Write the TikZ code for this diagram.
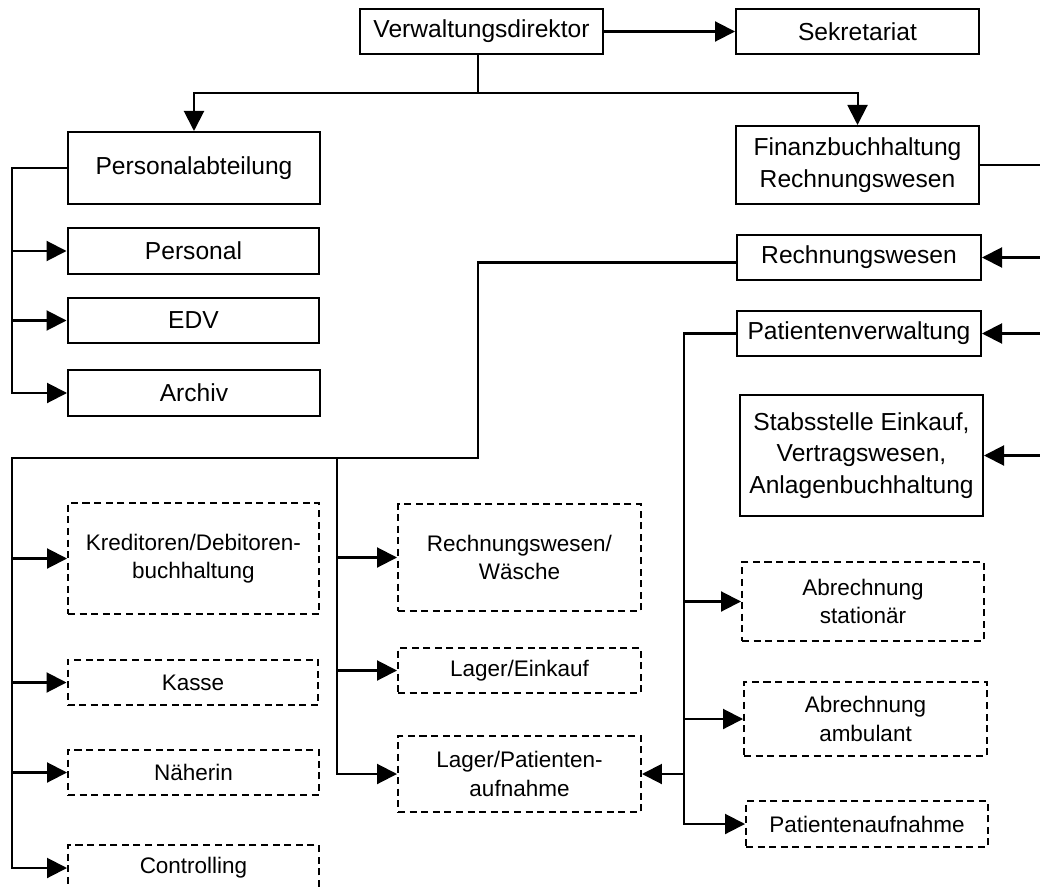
\documentclass[tikz,border=0pt]{standalone}
\usepackage{fontspec}
\setmainfont{Liberation Sans}
\usetikzlibrary{arrows.meta}

\begin{document}
\begin{tikzpicture}[x=0.02cm,y=-0.02cm,line width=1.15pt,
    >={Triangle[length=0.4cm,width=0.4cm]},
    box/.style={draw,rectangle,align=center,inner sep=0pt,minimum width=4.86cm,
      font=\fontsize{14}{18}\selectfont},
    lbox/.style={box,minimum width=5.04cm},
    dbox/.style={box,dash pattern=on 4pt off 2.6pt,font=\fontsize{12.8}{16}\selectfont},
    ldbox/.style={dbox,minimum width=5.02cm}]
    \useasboundingbox (0,0) rectangle (1040,888);

    \node [box,minimum height=0.9cm] (vd) at (481.5,31.5) {Verwaltungsdirektor};
    \node [box,minimum height=0.9cm] (sek) at (857.5,31.5) {Sekretariat};

    \node [lbox,minimum height=1.44cm] (pa) at (194,168) {Personalabteilung};
    \node [lbox,minimum height=0.92cm] (pers) at (193.5,251) {Personal};
    \node [lbox,minimum height=0.9cm] (edv) at (193.5,320.5) {EDV};
    \node [lbox,minimum height=0.92cm] (arch) at (194,393) {Archiv};

    \node [box,minimum height=1.56cm] (fin) at (857.5,165) {Finanzbuchhaltung\\Rechnungswesen};
    \node [box,minimum width=4.88cm,minimum height=0.9cm] (rw) at (859,257.5) {Rechnungswesen};
    \node [box,minimum width=4.88cm,minimum height=0.9cm] (pv) at (859,333.5) {Patientenverwaltung};
    \node [box,minimum height=2.42cm] (stab) at (861.5,455.5) {Stabsstelle Einkauf,\\Vertragswesen,\\Anlagenbuchhaltung};

    \node [dbox,minimum width=4.84cm,minimum height=1.58cm] (abs) at (863,601.5) {Abrechnung\\stationär};
    \node [dbox,minimum height=1.48cm] (aba) at (865.5,719) {Abrechnung\\ambulant};
    \node [dbox,minimum width=4.84cm,minimum height=0.92cm] (pauf) at (867,824) {Patientenaufnahme};

    \node [dbox,minimum height=2.14cm] (rww) at (519.5,557.5) {Rechnungswesen/\\Wäsche};
    \node [dbox,minimum height=0.9cm] (le) at (519.5,670.5) {Lager/Einkauf};
    \node [dbox,minimum height=1.52cm] (lp) at (519.5,774) {Lager/Patienten-\\aufnahme};

    \node [ldbox,minimum height=2.22cm] (kred) at (193.5,558.5) {Kreditoren/Debitoren-\\buchhaltung};
    \node [ldbox,minimum height=0.9cm] (kasse) at (193,682.5) {Kasse};
    \node [ldbox,minimum height=0.9cm] (naeh) at (193.5,772.5) {Näherin};
    \node [ldbox,minimum height=0.92cm] (contr) at (193.5,868) {Controlling};

    \coordinate (top) at (478,93);
    \coordinate (pl) at (12,0);
    \coordinate (fr) at (1046,0);
    \coordinate (rwb) at (478,458);
    \coordinate (mb) at (337,458);
    \coordinate (pvb) at (684,0);

    \draw[->] (vd) -- (sek);
    \draw[->] (top |- vd.south) -- (top) -| (pa.north);
    \draw[->] (top) -| (fin.north);

    \draw[->] (pa.west) -| (pl |- arch.west) -- (arch.west);
    \draw[->] (pl |- pers.west) -- (pers.west);
    \draw[->] (pl |- edv.west) -- (edv.west);

    \draw (fin.east) -- (fr |- fin.east);
    \draw[->] (fr |- fin.east) |- (rw.east);
    \draw[->] (fr |- fin.east) |- (pv.east);
    \draw[->] (fr |- fin.east) |- (stab.east);

    \draw[->] ([yshift=-0.1cm]rw.west) -| (rwb) -| (pl |- contr.west) -- (contr.west);
    \draw[->] (pl |- kred.west) -- (kred.west);
    \draw[->] (pl |- kasse.west) -- (kasse.west);
    \draw[->] (pl |- naeh.west) -- (naeh.west);
    \draw[->] (mb) |- (lp.west);
    \draw[->] (mb |- rww.west) -- (rww.west);
    \draw[->] (mb |- le.west) -- (le.west);

    \draw[->] (pv.west) -| (pvb |- pauf.west) -- (pauf.west);
    \draw[->] (pvb |- abs.west) -- (abs.west);
    \draw[->] (pvb |- aba.west) -- (aba.west);
    \draw[->] (pvb |- lp.east) -- (lp.east);
\end{tikzpicture}
\end{document}
